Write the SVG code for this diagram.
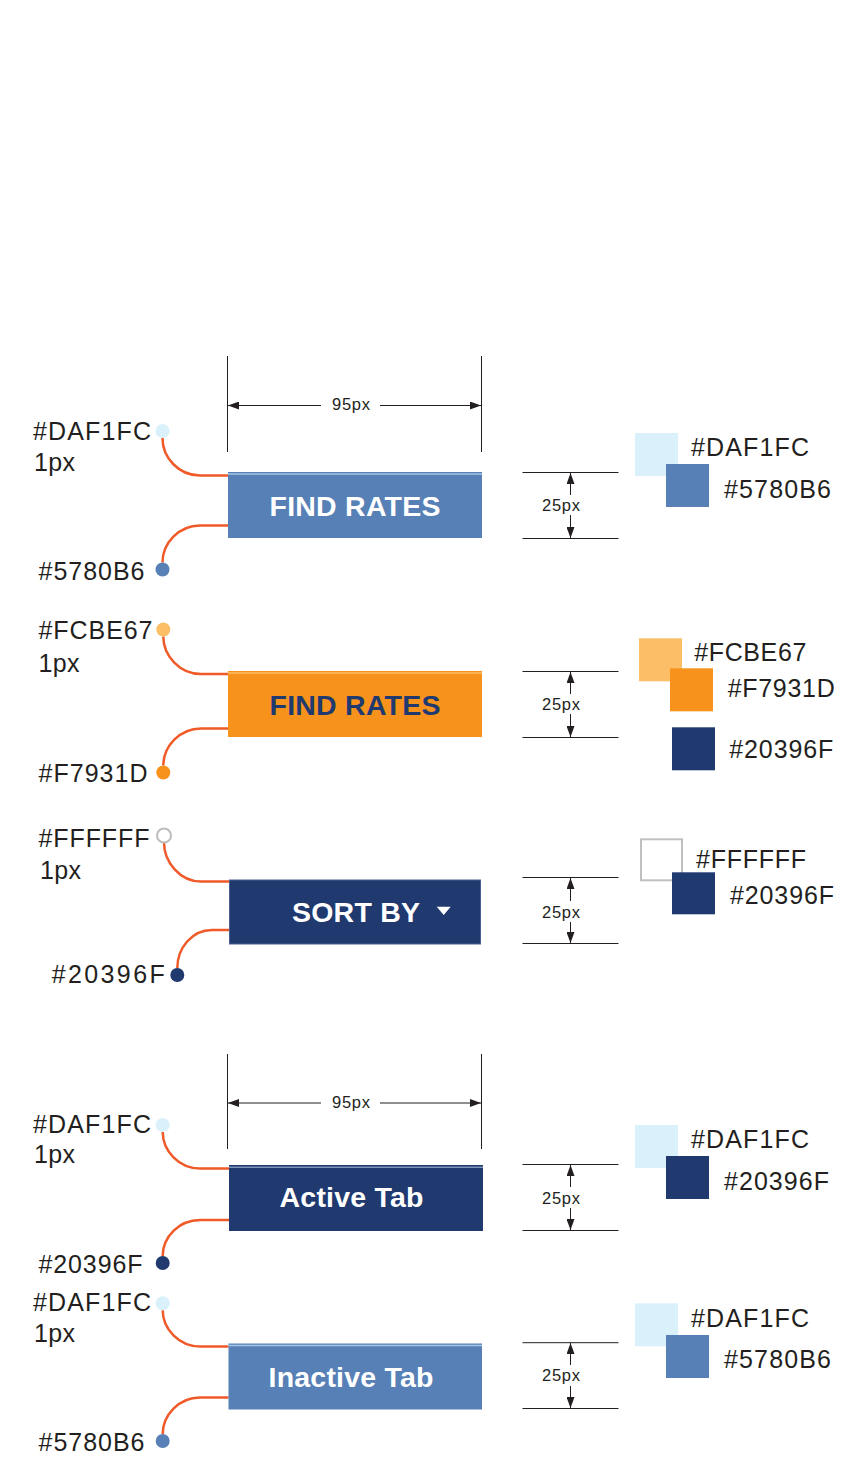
<svg xmlns="http://www.w3.org/2000/svg" width="865" height="1469" viewBox="0 0 865 1469">
<style>
.lbl{font-family:"Liberation Sans",Arial,sans-serif;font-size:25px;fill:#231F20}
.dim{font-family:"Liberation Sans",Arial,sans-serif;font-size:16.5px;fill:#231F20}
.btn{font-family:"Liberation Sans",Arial,sans-serif;font-size:28.5px;font-weight:bold;text-anchor:middle}
.dl{stroke:#231F20;stroke-width:1;fill:none}
.cv{stroke:#F05A28;stroke-width:2.5;fill:none}
.hl{stroke-width:1.5}
</style>
<defs>
<marker id="ah" viewBox="0 0 11 8" refX="11" refY="4" markerWidth="11" markerHeight="8" markerUnits="userSpaceOnUse" orient="auto-start-reverse">
<path d="M0,0 L11,4 L0,8 z" fill="#231F20"/>
</marker>
</defs>
<rect width="865" height="1469" fill="#FFFFFF"/>

<g id="connectors">
<path class="cv" d="M162.5,438 C162.5,458 179,475.5 200,475.5 H228"/>
<path class="cv" d="M228,525.5 H200 C179,525.5 162.5,543 162.5,562.5"/>
<path class="cv" d="M163.3,636.5 C163.3,656 180,674 201,674 H228"/>
<path class="cv" d="M228,728.5 H201 C180,728.5 163.3,746 163.3,765.5"/>
<path class="cv" d="M164,842.5 C164,862 180,881.5 201,881.5 H229.5"/>
<path class="cv" d="M229.5,930 H212 C192,930 177.3,948 177.3,968"/>
<path class="cv" d="M162.7,1132 C162.7,1151 179,1168.5 200,1168.5 H229"/>
<path class="cv" d="M229,1220 H200 C179,1220 162.7,1237 162.7,1256"/>
<path class="cv" d="M162.7,1310.3 C162.7,1329 179,1346.5 200,1346.5 H228.5"/>
<path class="cv" d="M228.5,1397.5 H200 C179,1397.5 162.7,1415 162.7,1434"/>
</g>

<g id="dim-width-1">
<line class="dl" x1="227.5" y1="356" x2="227.5" y2="452"/>
<line class="dl" x1="481.5" y1="356" x2="481.5" y2="452"/>
<line class="dl" x1="321" y1="405.5" x2="228" y2="405.5" marker-end="url(#ah)"/>
<line class="dl" x1="380" y1="405.5" x2="481" y2="405.5" marker-end="url(#ah)"/>
<text class="dim" x="332" y="410" textLength="38">95px</text>
</g>

<g id="dim-width-2">
<line class="dl" x1="227.5" y1="1054" x2="227.5" y2="1149"/>
<line class="dl" x1="481.5" y1="1054" x2="481.5" y2="1149"/>
<line class="dl" x1="321" y1="1103" x2="228" y2="1103" marker-end="url(#ah)"/>
<line class="dl" x1="380" y1="1103" x2="481" y2="1103" marker-end="url(#ah)"/>
<text class="dim" x="332" y="1107.5" textLength="38">95px</text>
</g>

<!-- Section 1 -->
<g id="node-find-rates-blue">
<rect x="228" y="472" width="254" height="66" fill="#5780B6"/>
<line class="hl" x1="228" y1="474" x2="482" y2="474" stroke="#A9C5E6"/>
<text class="btn" x="355" y="515.5" fill="#FFFFFF" textLength="171">FIND RATES</text>
</g>
<g id="label-1-top">
<circle cx="162.5" cy="431" r="7" fill="#DAF1FC"/>
<text class="lbl" x="33" y="439.5" textLength="118">#DAF1FC</text>
<text class="lbl" x="34" y="471" textLength="41">1px</text>
</g>
<g id="label-1-bottom">
<circle cx="162.5" cy="569.5" r="7" fill="#5780B6"/>
<text class="lbl" x="38.5" y="580" textLength="106">#5780B6</text>
</g>
<g id="dim-height-1">
<line class="dl" x1="522.5" y1="472.5" x2="618.5" y2="472.5"/>
<line class="dl" x1="522.5" y1="538.5" x2="618.5" y2="538.5"/>
<line class="dl" x1="570.5" y1="495" x2="570.5" y2="473" marker-end="url(#ah)"/>
<line class="dl" x1="570.5" y1="515" x2="570.5" y2="538" marker-end="url(#ah)"/>
<text class="dim" x="542" y="510.5" textLength="38">25px</text>
</g>
<g id="swatch-1">
<rect x="635" y="433" width="43" height="43" fill="#DAF1FC"/>
<rect x="666" y="464" width="43" height="43" fill="#5780B6"/>
<text class="lbl" x="691" y="456" textLength="118">#DAF1FC</text>
<text class="lbl" x="724" y="497.5" textLength="107">#5780B6</text>
</g>

<!-- Section 2 -->
<g id="node-find-rates-orange">
<rect x="228" y="671" width="254" height="66" fill="#F7931D"/>
<line class="hl" x1="228" y1="673" x2="482" y2="673" stroke="#FCBE67"/>
<text class="btn" x="355" y="715" fill="#20396F" textLength="171">FIND RATES</text>
</g>
<g id="label-2-top">
<circle cx="163.3" cy="629.5" r="7" fill="#FCBE67"/>
<text class="lbl" x="38.5" y="639.3" textLength="114">#FCBE67</text>
<text class="lbl" x="38.5" y="671.7" textLength="41">1px</text>
</g>
<g id="label-2-bottom">
<circle cx="163.3" cy="772.5" r="7" fill="#F7931D"/>
<text class="lbl" x="38.5" y="781.7" textLength="109">#F7931D</text>
</g>
<g id="dim-height-2">
<line class="dl" x1="522.5" y1="671.5" x2="618.5" y2="671.5"/>
<line class="dl" x1="522.5" y1="737.5" x2="618.5" y2="737.5"/>
<line class="dl" x1="570.5" y1="694" x2="570.5" y2="672" marker-end="url(#ah)"/>
<line class="dl" x1="570.5" y1="714" x2="570.5" y2="737" marker-end="url(#ah)"/>
<text class="dim" x="542" y="710" textLength="38">25px</text>
</g>
<g id="swatch-2">
<rect x="639" y="638.3" width="43" height="43" fill="#FCBE67"/>
<rect x="670" y="668.3" width="43" height="43" fill="#F7931D"/>
<rect x="672" y="727.3" width="43" height="43" fill="#20396F"/>
<text class="lbl" x="694.3" y="661" textLength="112">#FCBE67</text>
<text class="lbl" x="727.7" y="696.7" textLength="107">#F7931D</text>
<text class="lbl" x="729.3" y="758.3" textLength="104">#20396F</text>
</g>

<!-- Section 3 -->
<g id="node-sort-by">
<rect x="229.5" y="880" width="251" height="64" fill="#20396F" stroke="#4A5E8E" stroke-width="1"/>
<text class="btn" x="356" y="921.7" fill="#FFFFFF" textLength="128">SORT BY</text>
<path d="M436.7,906.7 L450.7,906.7 L443.7,915 z" fill="#FFFFFF"/>
</g>
<g id="label-3-top">
<circle cx="164" cy="835.5" r="7" fill="#FFFFFF" stroke="#BDBDBD" stroke-width="2"/>
<text class="lbl" x="38.5" y="846.7" textLength="111">#FFFFFF</text>
<text class="lbl" x="40" y="879" textLength="41">1px</text>
</g>
<g id="label-3-bottom">
<circle cx="177.3" cy="975" r="7" fill="#20396F"/>
<text class="lbl" x="51.7" y="983.3" textLength="113">#20396F</text>
</g>
<g id="dim-height-3">
<line class="dl" x1="522.5" y1="877.5" x2="618.5" y2="877.5" stroke="#555"/>
<line class="dl" x1="522.5" y1="943.5" x2="618.5" y2="943.5" stroke="#555"/>
<line class="dl" x1="570.5" y1="901" x2="570.5" y2="878" marker-end="url(#ah)"/>
<line class="dl" x1="570.5" y1="922" x2="570.5" y2="943" marker-end="url(#ah)"/>
<text class="dim" x="542" y="918.3" textLength="38">25px</text>
</g>
<g id="swatch-3">
<rect x="641" y="839.3" width="41" height="41" fill="#FFFFFF" stroke="#C0C0C0" stroke-width="2"/>
<rect x="672" y="872.3" width="43" height="42" fill="#20396F"/>
<text class="lbl" x="696" y="867.7" textLength="110">#FFFFFF</text>
<text class="lbl" x="730" y="904" textLength="104">#20396F</text>
</g>

<!-- Section 4 -->
<g id="node-active-tab">
<rect x="229" y="1165" width="254" height="66" fill="#20396F"/>
<line class="hl" x1="229" y1="1167.3" x2="483" y2="1167.3" stroke="#7F93BC"/>
<text class="btn" x="351.5" y="1207.3" fill="#FFFFFF" textLength="144">Active Tab</text>
</g>
<g id="label-4-top">
<circle cx="162.7" cy="1125" r="7" fill="#DAF1FC"/>
<text class="lbl" x="33" y="1132.7" textLength="118">#DAF1FC</text>
<text class="lbl" x="34" y="1163.3" textLength="41">1px</text>
</g>
<g id="label-4-bottom">
<circle cx="162.7" cy="1263" r="7" fill="#20396F"/>
<text class="lbl" x="38.5" y="1272.7" textLength="104">#20396F</text>
</g>
<g id="dim-height-4">
<line class="dl" x1="522.5" y1="1164.5" x2="618.5" y2="1164.5"/>
<line class="dl" x1="522.5" y1="1230.5" x2="618.5" y2="1230.5"/>
<line class="dl" x1="570.5" y1="1187" x2="570.5" y2="1165" marker-end="url(#ah)"/>
<line class="dl" x1="570.5" y1="1208" x2="570.5" y2="1230" marker-end="url(#ah)"/>
<text class="dim" x="542" y="1204" textLength="38">25px</text>
</g>
<g id="swatch-4">
<rect x="635" y="1125" width="43" height="43" fill="#DAF1FC"/>
<rect x="666" y="1156" width="43" height="43" fill="#20396F"/>
<text class="lbl" x="691" y="1147.7" textLength="118">#DAF1FC</text>
<text class="lbl" x="724" y="1190" textLength="105">#20396F</text>
</g>

<!-- Section 5 -->
<g id="node-inactive-tab">
<rect x="228.5" y="1343.5" width="253.5" height="66" fill="#5780B6"/>
<line class="hl" x1="228.5" y1="1345.5" x2="482" y2="1345.5" stroke="#A9C5E6"/>
<text class="btn" x="351" y="1386.7" fill="#FFFFFF" textLength="165">Inactive Tab</text>
</g>
<g id="label-5-top">
<circle cx="162.7" cy="1303.3" r="7" fill="#DAF1FC"/>
<text class="lbl" x="33" y="1311" textLength="118">#DAF1FC</text>
<text class="lbl" x="34" y="1341.7" textLength="41">1px</text>
</g>
<g id="label-5-bottom">
<circle cx="162.7" cy="1441" r="7" fill="#5780B6"/>
<text class="lbl" x="38.5" y="1450.7" textLength="106">#5780B6</text>
</g>
<g id="dim-height-5">
<line class="dl" x1="522.5" y1="1342.7" x2="618.5" y2="1342.7"/>
<line class="dl" x1="522.5" y1="1408.5" x2="618.5" y2="1408.5"/>
<line class="dl" x1="570.5" y1="1365" x2="570.5" y2="1343" marker-end="url(#ah)"/>
<line class="dl" x1="570.5" y1="1386" x2="570.5" y2="1408" marker-end="url(#ah)"/>
<text class="dim" x="542" y="1380.7" textLength="38">25px</text>
</g>
<g id="swatch-5">
<rect x="635" y="1303.3" width="43" height="43" fill="#DAF1FC"/>
<rect x="666" y="1335" width="43" height="43" fill="#5780B6"/>
<text class="lbl" x="691" y="1326.7" textLength="118">#DAF1FC</text>
<text class="lbl" x="724" y="1368.3" textLength="107">#5780B6</text>
</g>
</svg>
